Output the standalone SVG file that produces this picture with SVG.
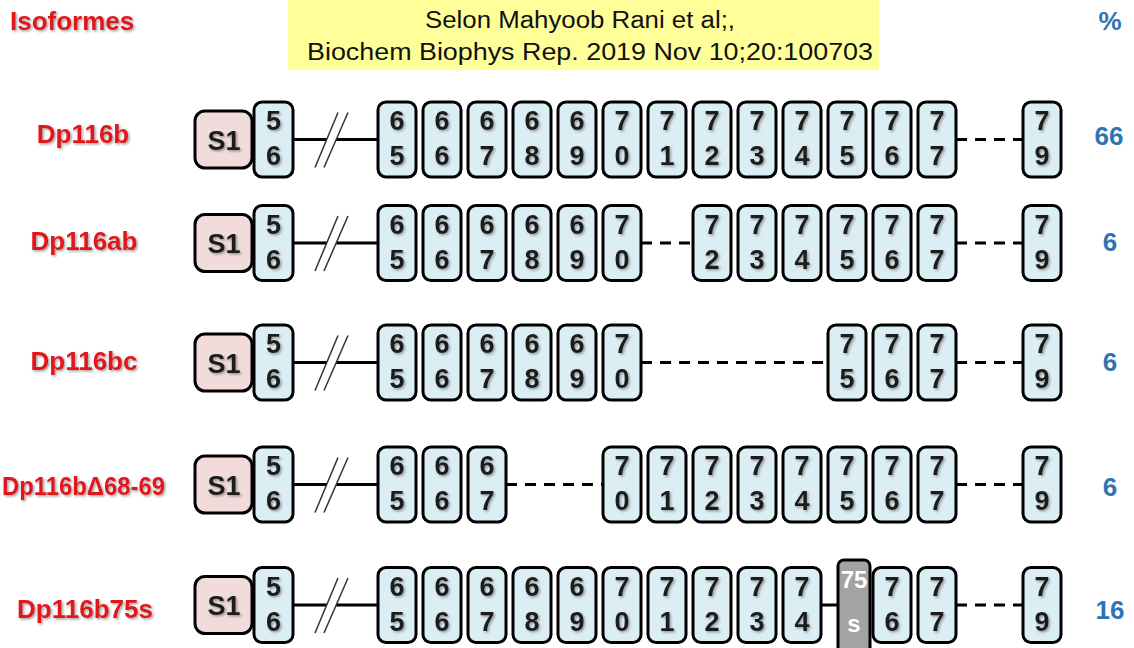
<svg xmlns="http://www.w3.org/2000/svg" width="1134" height="648" viewBox="0 0 1134 648">
<defs>
<filter id="sh" x="-20%" y="-20%" width="150%" height="150%"><feDropShadow dx="1.5" dy="1.5" stdDeviation="0.8" flood-color="#555" flood-opacity="0.55"/></filter>
</defs>
<style>
.ex{fill:#DBEEF4;stroke:#000;stroke-width:3}
.s1{fill:#F2DCDB;stroke:#000;stroke-width:3}
.gr{fill:#A3A3A3;stroke:#000;stroke-width:3}
.d{font-family:"Liberation Sans",Arial,sans-serif;font-weight:bold;font-size:27px;fill:#1E1E1E;text-anchor:middle;filter:url(#sh)}
.w{font-family:"Liberation Sans",Arial,sans-serif;font-weight:bold;font-size:24px;fill:#fff;text-anchor:middle}
.lab{font-family:"Liberation Sans",Arial,sans-serif;font-weight:bold;font-size:26px;fill:#E3141C;text-anchor:middle;filter:url(#sh)}
.pc{font-family:"Liberation Sans",Arial,sans-serif;font-weight:bold;font-size:26px;fill:#2E74B5;text-anchor:middle}
.hd{font-family:"Liberation Sans",Arial,sans-serif;font-size:23px;fill:#111;text-anchor:middle}
.ln{stroke:#000;stroke-width:3;fill:none}
.da{stroke:#000;stroke-width:3;fill:none;stroke-dasharray:11 8}
.sl{stroke:#333;stroke-width:1.5;fill:none}
</style>

<g id="header">
<rect x="288" y="0" width="591" height="70" fill="#FFFF99"/>
<text class="hd" x="580" y="28" textLength="310" lengthAdjust="spacingAndGlyphs">Selon Mahyoob Rani et al;,</text>
<text class="hd" x="590" y="60" textLength="566" lengthAdjust="spacingAndGlyphs">Biochem Biophys Rep. 2019 Nov 10;20:100703</text>
<text class="lab" x="10" y="30" style="text-anchor:start">Isoformes</text>
<text class="pc" x="1110" y="30">%</text>
</g>

<g id="connectors">
<path class="ln" d="M293 139.5H327M336 139.5H378"/>
<path class="sl" d="M315 167.5L338 112.5M324 167.5L348 112.5"/>
<path class="da" d="M956 139.5H1023"/>
<path class="ln" d="M293 243H327M336 243H378"/>
<path class="sl" d="M315 271L338 216M324 271L348 216"/>
<path class="da" d="M641 243H693M956 243H1023"/>
<path class="ln" d="M293 362.5H327M336 362.5H378"/>
<path class="sl" d="M315 390.5L338 335.5M324 390.5L348 335.5"/>
<path class="da" d="M641 362.5H828M956 362.5H1023"/>
<path class="ln" d="M293 484.5H327M336 484.5H378"/>
<path class="sl" d="M315 512.5L338 457.5M324 512.5L348 457.5"/>
<path class="da" d="M506 484.5H603M956 484.5H1023"/>
<path class="ln" d="M293 605H327M336 605H378M821 605H838"/>
<path class="sl" d="M315 633L338 578M324 633L348 578"/>
<path class="da" d="M956 605H1023"/>
</g>

<g id="row-Dp116b">
<text class="lab" x="83" y="143">Dp116b</text>
<g transform="translate(0,139.5)">
<rect class="s1" x="195" y="-28.5" width="57" height="57" rx="10"/><text class="d" x="224" y="10">S1</text>
<rect class="ex" x="254" y="-37.5" width="39" height="75" rx="8"/><text class="d" x="273.5" y="-9.5">5</text><text class="d" x="273.5" y="25.5">6</text>
<rect class="ex" x="378" y="-37.5" width="38" height="75" rx="8"/><text class="d" x="397" y="-9.5">6</text><text class="d" x="397" y="25.5">5</text>
<rect class="ex" x="423" y="-37.5" width="38" height="75" rx="8"/><text class="d" x="442" y="-9.5">6</text><text class="d" x="442" y="25.5">6</text>
<rect class="ex" x="468" y="-37.5" width="38" height="75" rx="8"/><text class="d" x="487" y="-9.5">6</text><text class="d" x="487" y="25.5">7</text>
<rect class="ex" x="513" y="-37.5" width="38" height="75" rx="8"/><text class="d" x="532" y="-9.5">6</text><text class="d" x="532" y="25.5">8</text>
<rect class="ex" x="558" y="-37.5" width="38" height="75" rx="8"/><text class="d" x="577" y="-9.5">6</text><text class="d" x="577" y="25.5">9</text>
<rect class="ex" x="603" y="-37.5" width="38" height="75" rx="8"/><text class="d" x="622" y="-9.5">7</text><text class="d" x="622" y="25.5">0</text>
<rect class="ex" x="648" y="-37.5" width="38" height="75" rx="8"/><text class="d" x="667" y="-9.5">7</text><text class="d" x="667" y="25.5">1</text>
<rect class="ex" x="693" y="-37.5" width="38" height="75" rx="8"/><text class="d" x="712" y="-9.5">7</text><text class="d" x="712" y="25.5">2</text>
<rect class="ex" x="738" y="-37.5" width="38" height="75" rx="8"/><text class="d" x="757" y="-9.5">7</text><text class="d" x="757" y="25.5">3</text>
<rect class="ex" x="783" y="-37.5" width="38" height="75" rx="8"/><text class="d" x="802" y="-9.5">7</text><text class="d" x="802" y="25.5">4</text>
<rect class="ex" x="828" y="-37.5" width="38" height="75" rx="8"/><text class="d" x="847" y="-9.5">7</text><text class="d" x="847" y="25.5">5</text>
<rect class="ex" x="873" y="-37.5" width="38" height="75" rx="8"/><text class="d" x="892" y="-9.5">7</text><text class="d" x="892" y="25.5">6</text>
<rect class="ex" x="918" y="-37.5" width="38" height="75" rx="8"/><text class="d" x="937" y="-9.5">7</text><text class="d" x="937" y="25.5">7</text>
<rect class="ex" x="1023" y="-37.5" width="38" height="75" rx="8"/><text class="d" x="1042" y="-9.5">7</text><text class="d" x="1042" y="25.5">9</text>
</g>
<text class="pc" x="1109" y="145">66</text>
</g>

<g id="row-Dp116ab">
<text class="lab" x="84" y="250">Dp116ab</text>
<g transform="translate(0,243)">
<rect class="s1" x="195" y="-28.5" width="57" height="57" rx="10"/><text class="d" x="224" y="10">S1</text>
<rect class="ex" x="254" y="-37.5" width="39" height="75" rx="8"/><text class="d" x="273.5" y="-9.5">5</text><text class="d" x="273.5" y="25.5">6</text>
<rect class="ex" x="378" y="-37.5" width="38" height="75" rx="8"/><text class="d" x="397" y="-9.5">6</text><text class="d" x="397" y="25.5">5</text>
<rect class="ex" x="423" y="-37.5" width="38" height="75" rx="8"/><text class="d" x="442" y="-9.5">6</text><text class="d" x="442" y="25.5">6</text>
<rect class="ex" x="468" y="-37.5" width="38" height="75" rx="8"/><text class="d" x="487" y="-9.5">6</text><text class="d" x="487" y="25.5">7</text>
<rect class="ex" x="513" y="-37.5" width="38" height="75" rx="8"/><text class="d" x="532" y="-9.5">6</text><text class="d" x="532" y="25.5">8</text>
<rect class="ex" x="558" y="-37.5" width="38" height="75" rx="8"/><text class="d" x="577" y="-9.5">6</text><text class="d" x="577" y="25.5">9</text>
<rect class="ex" x="603" y="-37.5" width="38" height="75" rx="8"/><text class="d" x="622" y="-9.5">7</text><text class="d" x="622" y="25.5">0</text>
<rect class="ex" x="693" y="-37.5" width="38" height="75" rx="8"/><text class="d" x="712" y="-9.5">7</text><text class="d" x="712" y="25.5">2</text>
<rect class="ex" x="738" y="-37.5" width="38" height="75" rx="8"/><text class="d" x="757" y="-9.5">7</text><text class="d" x="757" y="25.5">3</text>
<rect class="ex" x="783" y="-37.5" width="38" height="75" rx="8"/><text class="d" x="802" y="-9.5">7</text><text class="d" x="802" y="25.5">4</text>
<rect class="ex" x="828" y="-37.5" width="38" height="75" rx="8"/><text class="d" x="847" y="-9.5">7</text><text class="d" x="847" y="25.5">5</text>
<rect class="ex" x="873" y="-37.5" width="38" height="75" rx="8"/><text class="d" x="892" y="-9.5">7</text><text class="d" x="892" y="25.5">6</text>
<rect class="ex" x="918" y="-37.5" width="38" height="75" rx="8"/><text class="d" x="937" y="-9.5">7</text><text class="d" x="937" y="25.5">7</text>
<rect class="ex" x="1023" y="-37.5" width="38" height="75" rx="8"/><text class="d" x="1042" y="-9.5">7</text><text class="d" x="1042" y="25.5">9</text>
</g>
<text class="pc" x="1110" y="251">6</text>
</g>

<g id="row-Dp116bc">
<text class="lab" x="84" y="370">Dp116bc</text>
<g transform="translate(0,362.5)">
<rect class="s1" x="195" y="-28.5" width="57" height="57" rx="10"/><text class="d" x="224" y="10">S1</text>
<rect class="ex" x="254" y="-37.5" width="39" height="75" rx="8"/><text class="d" x="273.5" y="-9.5">5</text><text class="d" x="273.5" y="25.5">6</text>
<rect class="ex" x="378" y="-37.5" width="38" height="75" rx="8"/><text class="d" x="397" y="-9.5">6</text><text class="d" x="397" y="25.5">5</text>
<rect class="ex" x="423" y="-37.5" width="38" height="75" rx="8"/><text class="d" x="442" y="-9.5">6</text><text class="d" x="442" y="25.5">6</text>
<rect class="ex" x="468" y="-37.5" width="38" height="75" rx="8"/><text class="d" x="487" y="-9.5">6</text><text class="d" x="487" y="25.5">7</text>
<rect class="ex" x="513" y="-37.5" width="38" height="75" rx="8"/><text class="d" x="532" y="-9.5">6</text><text class="d" x="532" y="25.5">8</text>
<rect class="ex" x="558" y="-37.5" width="38" height="75" rx="8"/><text class="d" x="577" y="-9.5">6</text><text class="d" x="577" y="25.5">9</text>
<rect class="ex" x="603" y="-37.5" width="38" height="75" rx="8"/><text class="d" x="622" y="-9.5">7</text><text class="d" x="622" y="25.5">0</text>
<rect class="ex" x="828" y="-37.5" width="38" height="75" rx="8"/><text class="d" x="847" y="-9.5">7</text><text class="d" x="847" y="25.5">5</text>
<rect class="ex" x="873" y="-37.5" width="38" height="75" rx="8"/><text class="d" x="892" y="-9.5">7</text><text class="d" x="892" y="25.5">6</text>
<rect class="ex" x="918" y="-37.5" width="38" height="75" rx="8"/><text class="d" x="937" y="-9.5">7</text><text class="d" x="937" y="25.5">7</text>
<rect class="ex" x="1023" y="-37.5" width="38" height="75" rx="8"/><text class="d" x="1042" y="-9.5">7</text><text class="d" x="1042" y="25.5">9</text>
</g>
<text class="pc" x="1110" y="371">6</text>
</g>

<g id="row-Dp116bD68-69">
<text class="lab" x="2" y="495" style="text-anchor:start" textLength="163" lengthAdjust="spacingAndGlyphs">Dp116bΔ68-69</text>
<g transform="translate(0,484.5)">
<rect class="s1" x="195" y="-28.5" width="57" height="57" rx="10"/><text class="d" x="224" y="10">S1</text>
<rect class="ex" x="254" y="-37.5" width="39" height="75" rx="8"/><text class="d" x="273.5" y="-9.5">5</text><text class="d" x="273.5" y="25.5">6</text>
<rect class="ex" x="378" y="-37.5" width="38" height="75" rx="8"/><text class="d" x="397" y="-9.5">6</text><text class="d" x="397" y="25.5">5</text>
<rect class="ex" x="423" y="-37.5" width="38" height="75" rx="8"/><text class="d" x="442" y="-9.5">6</text><text class="d" x="442" y="25.5">6</text>
<rect class="ex" x="468" y="-37.5" width="38" height="75" rx="8"/><text class="d" x="487" y="-9.5">6</text><text class="d" x="487" y="25.5">7</text>
<rect class="ex" x="603" y="-37.5" width="38" height="75" rx="8"/><text class="d" x="622" y="-9.5">7</text><text class="d" x="622" y="25.5">0</text>
<rect class="ex" x="648" y="-37.5" width="38" height="75" rx="8"/><text class="d" x="667" y="-9.5">7</text><text class="d" x="667" y="25.5">1</text>
<rect class="ex" x="693" y="-37.5" width="38" height="75" rx="8"/><text class="d" x="712" y="-9.5">7</text><text class="d" x="712" y="25.5">2</text>
<rect class="ex" x="738" y="-37.5" width="38" height="75" rx="8"/><text class="d" x="757" y="-9.5">7</text><text class="d" x="757" y="25.5">3</text>
<rect class="ex" x="783" y="-37.5" width="38" height="75" rx="8"/><text class="d" x="802" y="-9.5">7</text><text class="d" x="802" y="25.5">4</text>
<rect class="ex" x="828" y="-37.5" width="38" height="75" rx="8"/><text class="d" x="847" y="-9.5">7</text><text class="d" x="847" y="25.5">5</text>
<rect class="ex" x="873" y="-37.5" width="38" height="75" rx="8"/><text class="d" x="892" y="-9.5">7</text><text class="d" x="892" y="25.5">6</text>
<rect class="ex" x="918" y="-37.5" width="38" height="75" rx="8"/><text class="d" x="937" y="-9.5">7</text><text class="d" x="937" y="25.5">7</text>
<rect class="ex" x="1023" y="-37.5" width="38" height="75" rx="8"/><text class="d" x="1042" y="-9.5">7</text><text class="d" x="1042" y="25.5">9</text>
</g>
<text class="pc" x="1110" y="496">6</text>
</g>

<g id="row-Dp116b75s">
<text class="lab" x="85" y="618">Dp116b75s</text>
<g transform="translate(0,605)">
<rect class="s1" x="195" y="-28.5" width="57" height="57" rx="10"/><text class="d" x="224" y="10">S1</text>
<rect class="ex" x="254" y="-37.5" width="39" height="75" rx="8"/><text class="d" x="273.5" y="-9.5">5</text><text class="d" x="273.5" y="25.5">6</text>
<rect class="ex" x="378" y="-37.5" width="38" height="75" rx="8"/><text class="d" x="397" y="-9.5">6</text><text class="d" x="397" y="25.5">5</text>
<rect class="ex" x="423" y="-37.5" width="38" height="75" rx="8"/><text class="d" x="442" y="-9.5">6</text><text class="d" x="442" y="25.5">6</text>
<rect class="ex" x="468" y="-37.5" width="38" height="75" rx="8"/><text class="d" x="487" y="-9.5">6</text><text class="d" x="487" y="25.5">7</text>
<rect class="ex" x="513" y="-37.5" width="38" height="75" rx="8"/><text class="d" x="532" y="-9.5">6</text><text class="d" x="532" y="25.5">8</text>
<rect class="ex" x="558" y="-37.5" width="38" height="75" rx="8"/><text class="d" x="577" y="-9.5">6</text><text class="d" x="577" y="25.5">9</text>
<rect class="ex" x="603" y="-37.5" width="38" height="75" rx="8"/><text class="d" x="622" y="-9.5">7</text><text class="d" x="622" y="25.5">0</text>
<rect class="ex" x="648" y="-37.5" width="38" height="75" rx="8"/><text class="d" x="667" y="-9.5">7</text><text class="d" x="667" y="25.5">1</text>
<rect class="ex" x="693" y="-37.5" width="38" height="75" rx="8"/><text class="d" x="712" y="-9.5">7</text><text class="d" x="712" y="25.5">2</text>
<rect class="ex" x="738" y="-37.5" width="38" height="75" rx="8"/><text class="d" x="757" y="-9.5">7</text><text class="d" x="757" y="25.5">3</text>
<rect class="ex" x="783" y="-37.5" width="38" height="75" rx="8"/><text class="d" x="802" y="-9.5">7</text><text class="d" x="802" y="25.5">4</text>
<rect class="gr" x="838" y="-45" width="32" height="110" rx="6"/><text class="w" x="854" y="-17">75</text><text class="w" x="854" y="27">s</text>
<rect class="ex" x="873" y="-37.5" width="38" height="75" rx="8"/><text class="d" x="892" y="-9.5">7</text><text class="d" x="892" y="25.5">6</text>
<rect class="ex" x="918" y="-37.5" width="38" height="75" rx="8"/><text class="d" x="937" y="-9.5">7</text><text class="d" x="937" y="25.5">7</text>
<rect class="ex" x="1023" y="-37.5" width="38" height="75" rx="8"/><text class="d" x="1042" y="-9.5">7</text><text class="d" x="1042" y="25.5">9</text>
</g>
<text class="pc" x="1110" y="619">16</text>
</g>
</svg>
